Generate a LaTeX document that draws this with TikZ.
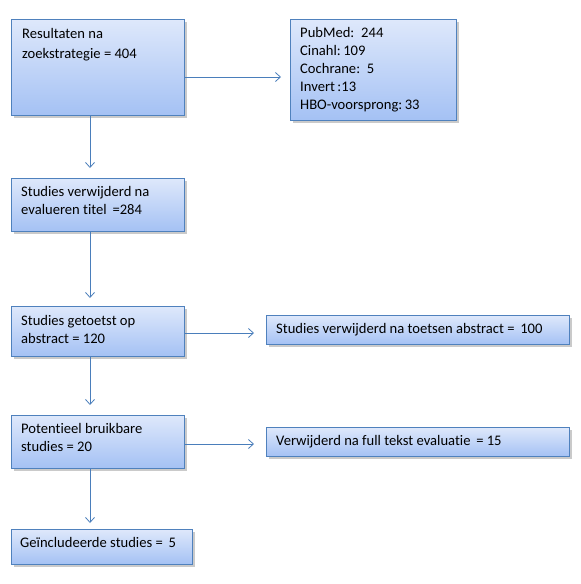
\documentclass[tikz,border=0pt]{standalone}
\usepackage{fontspec}
\setmainfont{Carlito}[Ligatures=NoCommon]
\usetikzlibrary{shadows,arrows.meta}
\definecolor{boxtop}{HTML}{DEE8FB}
\definecolor{boxbot}{HTML}{A4C1F4}
\definecolor{boxline}{HTML}{4F81BD}
\definecolor{arr}{HTML}{4A7EBB}
\tikzset{
  fbox/.style={draw=boxline, line width=1pt, top color=boxtop, bottom color=boxbot,
    drop shadow={shadow xshift=2pt, shadow yshift=-2pt, opacity=0.35, fill=black!60},
    rectangle, inner sep=0pt, anchor=north west},
  txt/.style={inner sep=0pt, anchor=base west, align=left, font=\fontsize{14.6pt}{18pt}\selectfont},
  conn/.style={draw=arr, line width=0.8pt, -{Straight Barb[length=5pt,width=9pt,line width=0.8pt]}}
}
\begin{document}
\begin{tikzpicture}[x=1pt,y=-1pt]
\useasboundingbox (0,0) rectangle (581,584);
% boxes
\node[fbox, minimum width=173pt, minimum height=96pt] (b1) at (11,19) {};
\node[fbox, minimum width=166pt, minimum height=101pt] (b2) at (290,19) {};
\node[fbox, minimum width=173pt, minimum height=53pt] (b3) at (11,178) {};
\node[fbox, minimum width=173pt, minimum height=50pt] (b4) at (11,306) {};
\node[fbox, minimum width=303pt, minimum height=29pt] (ba) at (266,315) {};
\node[fbox, minimum width=173pt, minimum height=53pt] (b5) at (11,415) {};
\node[fbox, minimum width=303pt, minimum height=29pt] (bb) at (266,427) {};
\node[fbox, minimum width=181pt, minimum height=35pt] (b6) at (11,529) {};
% texts (anchor = baseline of the last line)
\node[txt, font=\fontsize{14.6pt}{20.5pt}\selectfont] (t1) at (22,58.5) {Resultaten na\\zoekstrategie = 404};
\node[txt] (t2) at (300,109.7) {PubMed:\, 244\\Cinahl:\,109\\Cochrane:\, 5\\Invert\,:13\\HBO-voorsprong:\,33};
\node[txt] (t3) at (21,214.5) {Studies verwijderd na\\evalueren titel \,=284};
\node[txt] (t4) at (21,343) {Studies getoetst op\\abstract = 120};
\node[txt] (ta) at (276,333.5) {Studies verwijderd na toetsen abstract = \,100};
\node[txt] (t5) at (21,451.5) {Potentieel bruikbare\\studies = 20};
\node[txt] (tb) at (276,445) {Verwijderd na full tekst evaluatie \,= 15};
\node[txt] (t6) at (20,547.3) {Geïncludeerde studies = \,5};
% connectors
\draw[conn, shorten >=9pt] (b1.east |- 0,77) -- (b2.west |- 0,77);
\draw[conn, shorten >=10pt] (b1.south -| 90,0) -- (b3.north -| 90,0);
\draw[conn, shorten >=8pt] (b3.south -| 90,0) -- (b4.north -| 90,0);
\draw[conn, shorten >=12pt] (b4.east |- 0,333) -- (ba.west |- 0,333);
\draw[conn, shorten >=10pt] (b4.south -| 90,0) -- (b5.north -| 90,0);
\draw[conn, shorten >=12pt] (b5.east |- 0,444) -- (bb.west |- 0,444);
\draw[conn, shorten >=6pt] (b5.south -| 90,0) -- (b6.north -| 90,0);
\end{tikzpicture}
\end{document}
